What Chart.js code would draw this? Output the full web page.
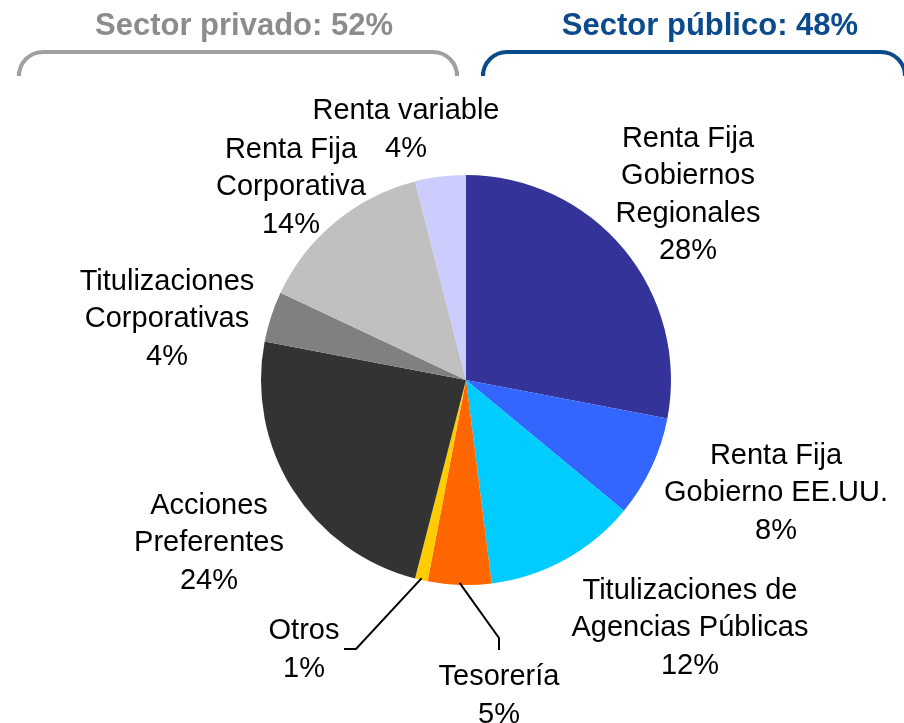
<!DOCTYPE html>
<html>
<head>
<meta charset="utf-8">
<script src="https://cdn.jsdelivr.net/npm/chart.js@4"></script>
<style>
html,body{margin:0;padding:0;background:#fff;}
canvas{display:block;}
</style>
</head>
<body>
<canvas id="c" width="904" height="723"></canvas>
<script>
// ---- data ----
const categories = [
  "Renta Fija Gobiernos Regionales",
  "Renta Fija Gobierno EE.UU.",
  "Titulizaciones de Agencias Públicas",
  "Tesorería",
  "Otros",
  "Acciones Preferentes",
  "Titulizaciones Corporativas",
  "Renta Fija Corporativa",
  "Renta variable"
];
const shares = [28, 8, 12, 5, 1, 24, 4, 14, 4];
const labelLines = [
  ["Renta Fija", "Gobiernos", "Regionales"],
  ["Renta Fija", "Gobierno EE.UU."],
  ["Titulizaciones de", "Agencias Públicas"],
  ["Tesorería"],
  ["Otros"],
  ["Acciones", "Preferentes"],
  ["Titulizaciones", "Corporativas"],
  ["Renta Fija", "Corporativa"],
  ["Renta variable"]
];
const sectorTitles = ["Sector privado: 52%", "Sector público: 48%"];

// ---- styles / layout ----
const colors = ["#333399", "#3366FF", "#00CCFF", "#FF6600", "#FFCC00", "#333333", "#808080", "#C0C0C0", "#CCCCFF"];
// label block centers, offset from pie center (px)
const labelOffsets = [[222,-185],[310,113],[224,248],[33,316],[-162,270],[-257,163],[-299,-61],[-175,-193],[-60,-250]];
// leader lines: [elbow, end] offsets from pie center, null if none
const leaders = [null,null,null,[[33,258],[33,270]],[[-110,269],[-122,269]],null,null,null,null];

const labelPlugin = {
  id: 'labels',
  afterDraw(chart) {
    const ctx = chart.ctx;
    const meta = chart.getDatasetMeta(0);
    const lineH = 37.5;
    ctx.save();
    // sector headers
    ctx.font = 'bold 31px "Liberation Sans", Arial, sans-serif';
    ctx.textAlign = 'center';
    ctx.textBaseline = 'alphabetic';
    ctx.fillStyle = '#8C8C8C';
    ctx.fillText(sectorTitles[0], 244, 35);
    ctx.fillStyle = '#0B4A8B';
    ctx.fillText(sectorTitles[1], 710, 35);
    // brackets
    ctx.lineWidth = 4;
    ctx.lineCap = 'butt';
    ctx.strokeStyle = '#A0A0A0';
    ctx.beginPath();
    ctx.moveTo(19, 72);
    ctx.arcTo(19, 52, 45, 52, 24);
    ctx.lineTo(432, 52);
    ctx.arcTo(457, 52, 457, 72, 24);
    ctx.lineTo(457, 72);
    ctx.stroke();
    ctx.strokeStyle = '#0B4A8B';
    ctx.beginPath();
    ctx.moveTo(483, 72);
    ctx.arcTo(483, 52, 508, 52, 24);
    ctx.lineTo(880, 52);
    ctx.arcTo(905, 52, 905, 77, 24);
    ctx.stroke();

    // slice labels
    ctx.font = '29px "Liberation Sans", Arial, sans-serif';
    ctx.fillStyle = '#000';
    ctx.textBaseline = 'middle';
    meta.data.forEach((arc, i) => {
      const cx = arc.x, cy = arc.y;
      const lines = labelLines[i].concat([shares[i] + '%']);
      const [ox, oy] = labelOffsets[i];
      const top = cy + oy - (lines.length - 1) * lineH / 2;
      lines.forEach((t, k) => ctx.fillText(t, cx + ox, top + k * lineH));
      if (leaders[i]) {
        const mid = (arc.startAngle + arc.endAngle) / 2;
        const r = arc.outerRadius;
        ctx.strokeStyle = '#000';
        ctx.lineWidth = 2;
        ctx.beginPath();
        ctx.moveTo(cx + Math.cos(mid) * (r - 2), cy + Math.sin(mid) * (r - 2));
        ctx.lineTo(cx + leaders[i][0][0], cy + leaders[i][0][1]);
        ctx.lineTo(cx + leaders[i][1][0], cy + leaders[i][1][1]);
        ctx.stroke();
      }
    });
    ctx.restore();
  }
};

new Chart(document.getElementById('c'), {
  type: 'pie',
  data: {
    labels: categories,
    datasets: [{
      data: shares,
      backgroundColor: colors,
      borderWidth: 0
    }]
  },
  options: {
    responsive: false,
    animation: false,
    layout: { padding: { left: 261, right: 233, top: 175, bottom: 138 } },
    plugins: { legend: { display: false }, tooltip: { enabled: false } }
  },
  plugins: [labelPlugin]
});
</script>
</body>
</html>
